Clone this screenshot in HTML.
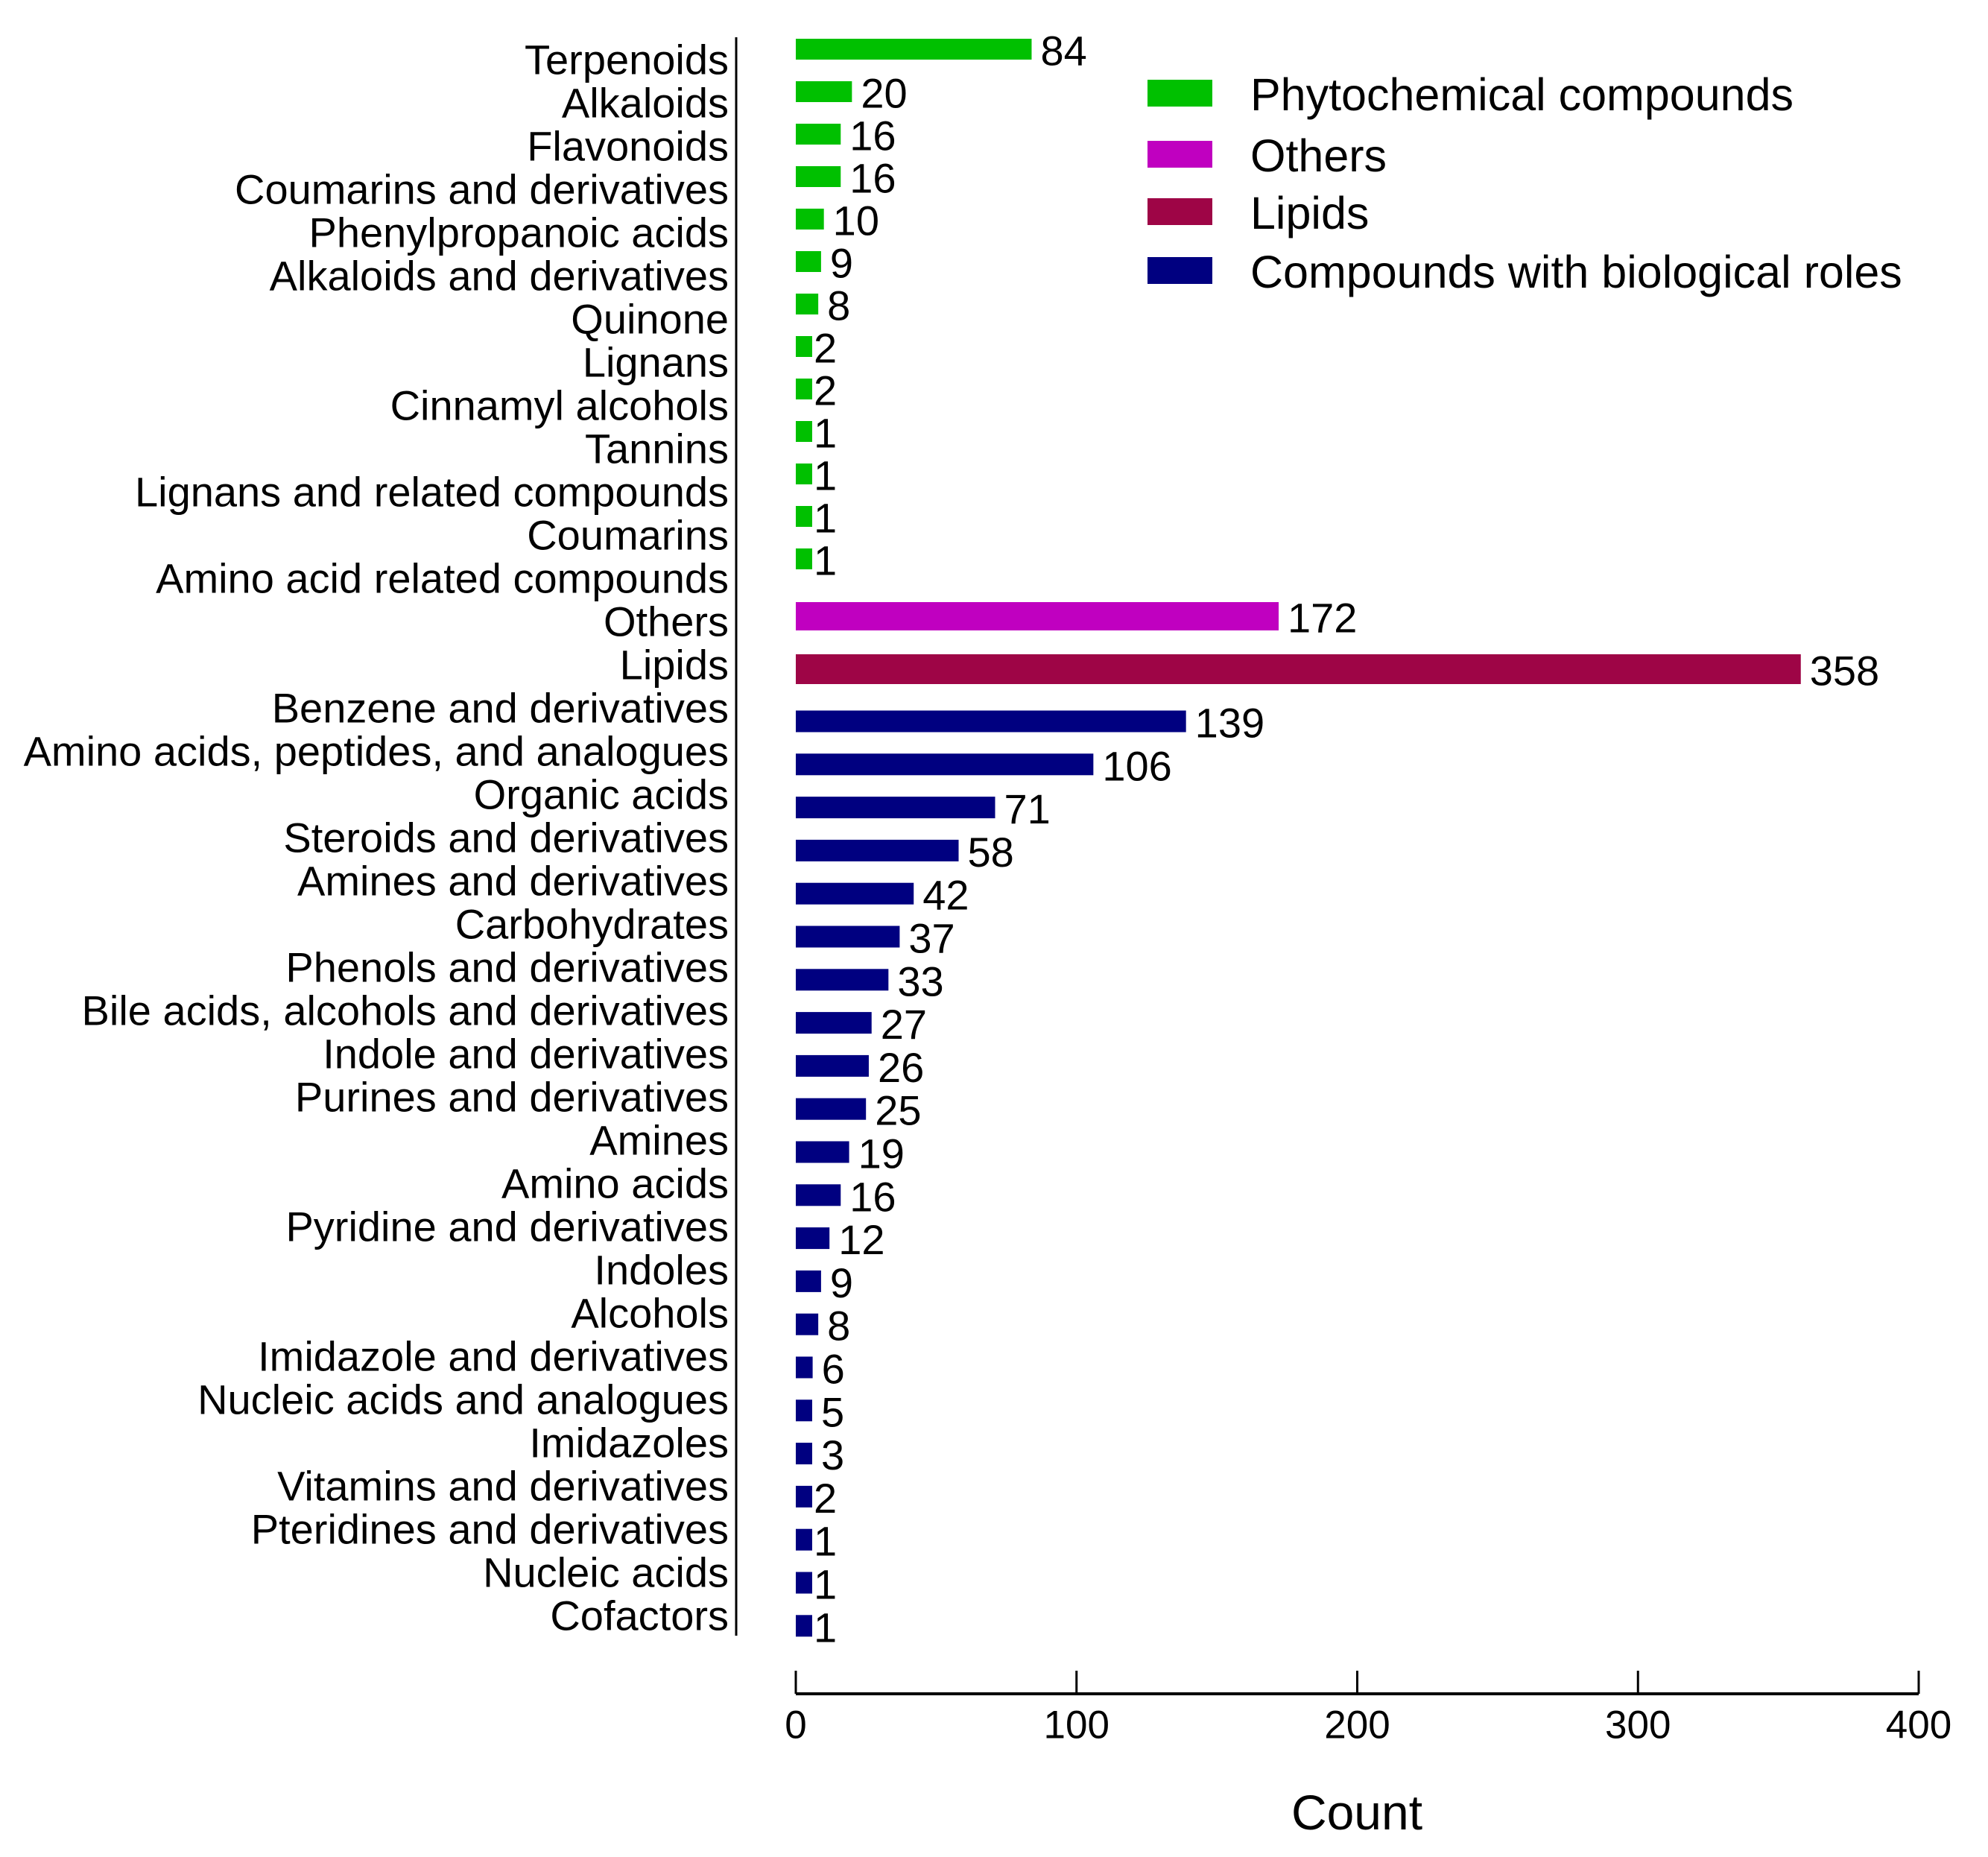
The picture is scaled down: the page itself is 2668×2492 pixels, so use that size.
<!DOCTYPE html>
<html><head><meta charset="utf-8"><style>
html,body{margin:0;padding:0;background:#fff;}
svg{display:block;font-family:"Liberation Sans",Arial,sans-serif;}
</style></head><body>
<svg id="chart" width="2668" height="2492" viewBox="0 0 2668 2492" xmlns="http://www.w3.org/2000/svg"></svg>
<script>
const greenCats=["Terpenoids","Alkaloids","Flavonoids","Coumarins and derivatives","Phenylpropanoic acids","Alkaloids and derivatives","Quinone","Lignans","Cinnamyl alcohols","Tannins","Lignans and related compounds","Coumarins","Amino acid related compounds"];
const greenVals=[84,20,16,16,10,9,8,2,2,1,1,1,1];
const otherCats=["Others"];
const otherVals=[172];
const lipidCats=["Lipids"];
const lipidVals=[358];
const blueCats=["Benzene and derivatives","Amino acids, peptides, and analogues","Organic acids","Steroids and derivatives","Amines and derivatives","Carbohydrates","Phenols and derivatives","Bile acids, alcohols and derivatives","Indole and derivatives","Purines and derivatives","Amines","Amino acids","Pyridine and derivatives","Indoles","Alcohols","Imidazole and derivatives","Nucleic acids and analogues","Imidazoles","Vitamins and derivatives","Pteridines and derivatives","Nucleic acids","Cofactors"];
const blueVals=[139,106,71,58,42,37,33,27,26,25,19,16,12,9,8,6,5,3,2,1,1,1];
const xTicks=[0,100,200,300,400];
const legendLabels=["Phytochemical compounds","Others","Lipids","Compounds with biological roles"];

const NS="http://www.w3.org/2000/svg";
const svg=document.getElementById('chart');
function mk(tag,attrs,parent){const e=document.createElementNS(NS,tag);for(const k in attrs)e.setAttribute(k,attrs[k]);(parent||svg).appendChild(e);return e;}
const X0=1068,X1=2575,XMAX=400;
function xs(v){return X0+(X1-X0)*v/XMAX;}
function labelY(i){return 80+i*58.0;}
function greenY(i){return 66+i*57.0;}
function otherY(i){return 827;}
function lipidY(i){return 898;}
function blueY(i){return 968+i*57.8;}

const groups=[
 {cats:greenCats,vals:greenVals,y:greenY,h:28,color:"#00c000",name:"phytochemical"},
 {cats:otherCats,vals:otherVals,y:otherY,h:38,color:"#c000c0",name:"others"},
 {cats:lipidCats,vals:lipidVals,y:lipidY,h:40,color:"#9e0546",name:"lipids"},
 {cats:blueCats,vals:blueVals,y:blueY,h:29,color:"#000080",name:"biological"}
];
const yl=mk('line',{x1:988,y1:50,x2:988,y2:2195,stroke:"#000","stroke-width":3});


let row=0;
groups.forEach(g=>{
 g.cats.forEach((c,i)=>{
  const t=mk('text',{x:978,y:labelY(row),"text-anchor":"end","dominant-baseline":"central","font-size":"56"});
  t.textContent=c;
  
  
  row++;
  const cy=g.y(i);
  const w=Math.max(xs(g.vals[i])-X0,22);
  const r=mk('rect',{x:X0,y:cy-g.h/2,width:w,height:g.h,fill:g.color});
  
  
  const v=mk('text',{x:X0+w+(g.vals[i]<3?2:12),y:cy+2,"dominant-baseline":"central","font-size":"56"});
  v.textContent=g.vals[i];
  
  
 });
});
const xl=mk('line',{x1:X0,y1:2273,x2:X1,y2:2273,stroke:"#000","stroke-width":4});


xTicks.forEach(t=>{
 const tk=mk('line',{x1:xs(t),y1:2242,x2:xs(t),y2:2273,stroke:"#000","stroke-width":3});
 
 
 const tl=mk('text',{x:xs(t),y:2315,"text-anchor":"middle","dominant-baseline":"central","font-size":"53"});
 tl.textContent=t;
 
 
});
const xt=mk('text',{x:1821,y:2432,"text-anchor":"middle","dominant-baseline":"central","font-size":"66"});
xt.textContent="Count";


const legY=[125,207,284,363];
legendLabels.forEach((l,i)=>{
 const s=mk('rect',{x:1540,y:legY[i]-18,width:87,height:36,fill:groups[i].color});
 
 
 const t=mk('text',{x:1678,y:legY[i]+2,"dominant-baseline":"central","font-size":"61"});
 t.textContent=l;
 
 
});
</script>
</body></html>
